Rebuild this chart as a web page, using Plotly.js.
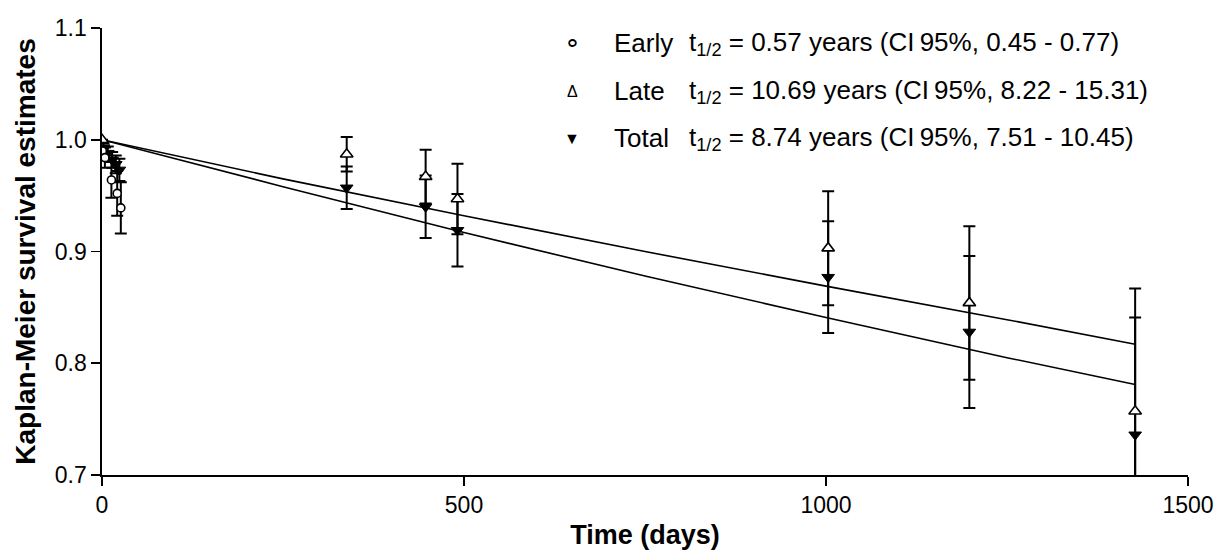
<!DOCTYPE html>
<html>
<head>
<meta charset="utf-8">
<script src="https://cdn.plot.ly/plotly-3.0.1.min.js"></script>
<style>html,body{margin:0;padding:0;background:#fff;}#chart{width:1216px;height:558px;}</style>
</head>
<body>
<div id="chart"></div>
<script>
// ---- Data ----
const earlyDays = [0.5, 4, 13, 21, 26];
const earlySurv = [0.990, 0.984, 0.964, 0.952, 0.939];
const earlyErr  = [0.004, 0.009, 0.016, 0.020, 0.023];

const lateDays = [0, 338, 447, 491, 1003, 1198, 1427];
const lateSurv = [1.000, 0.987, 0.967, 0.947, 0.903, 0.854, 0.757];
const lateErr  = [0, 0.0155, 0.024, 0.0315, 0.051, 0.0687, 0.110];

const totalDays = [2, 8, 14, 19, 24, 338, 447, 491, 1003, 1198, 1427];
const totalSurv = [0.993, 0.988, 0.982, 0.978, 0.973, 0.957, 0.940, 0.919, 0.877, 0.828, 0.736];
const totalErr  = [0.004, 0.006, 0.007, 0.008, 0.010, 0.019, 0.028, 0.0324, 0.050, 0.068, 0.105];

// fitted curves, read at several days
const fitDays      = [0, 250, 500, 750, 1000, 1250, 1427];
const lateFitSurv  = [1.000, 0.965, 0.932, 0.900, 0.869, 0.839, 0.817];
const totalFitSurv = [1.000, 0.958, 0.917, 0.878, 0.841, 0.805, 0.781];

const xTicks = [0, 500, 1000, 1500];
const yTicks = [0.7, 0.8, 0.9, 1.0, 1.1];

const legendNames = ["Early", "Late", "Total"];
const legendSymbols = ["\u2218", "\u0394", "\u25BC"];
const legendTexts = [
  "t<sub>1/2</sub> = 0.57 years (CI\u200995%, 0.45 - 0.77)",
  "t<sub>1/2</sub> = 10.69 years (CI\u200995%, 8.22 - 15.31)",
  "t<sub>1/2</sub> = 8.74 years (CI\u200995%, 7.51 - 10.45)"
];

const FONT = "Liberation Sans, Arial, sans-serif";
const errStyle = {type: 'data', visible: true, color: '#000', thickness: 2, width: 6};

const traces = [
  {x: fitDays, y: lateFitSurv, mode: 'lines', line: {color: '#000', width: 1.6}, showlegend: false, hoverinfo: 'skip'},
  {x: fitDays, y: totalFitSurv, mode: 'lines', line: {color: '#000', width: 1.6}, showlegend: false, hoverinfo: 'skip'},
  {x: totalDays, y: totalSurv, mode: 'markers', name: 'Total',
   error_y: Object.assign({array: totalErr}, errStyle),
   marker: {symbol: 'triangle-down', size: 11, color: '#000', line: {color: '#000', width: 1}}},
  {x: lateDays, y: lateSurv, mode: 'markers', name: 'Late',
   error_y: Object.assign({array: lateErr}, errStyle),
   marker: {symbol: 'triangle-up', size: 11, color: '#fff', line: {color: '#000', width: 1.6}}},
  {x: earlyDays, y: earlySurv, mode: 'markers', name: 'Early',
   error_y: Object.assign({array: earlyErr}, errStyle),
   marker: {symbol: 'circle', size: 8, color: '#fff', line: {color: '#000', width: 1.6}}}
];

const rowsY = [0.966, 0.858, 0.753];
const annotations = [];
for (let i = 0; i < 3; i++) {
  annotations.push({xref: 'paper', yref: 'paper', x: 0.4328, y: rowsY[i], text: legendSymbols[i],
    showarrow: false, xanchor: 'center', yanchor: 'middle', font: {family: FONT, size: i === 0 ? 27 : 16, color: '#000'}});
  annotations.push({xref: 'paper', yref: 'paper', x: 0.4696, y: rowsY[i], text: legendNames[i],
    showarrow: false, xanchor: 'left', yanchor: 'middle', font: {family: FONT, size: 26, color: '#000'}});
  annotations.push({xref: 'paper', yref: 'paper', x: 0.5387, y: rowsY[i], text: legendTexts[i],
    showarrow: false, xanchor: 'left', yanchor: 'middle', font: {family: FONT, size: 26, color: '#000'}});
}

const layout = {
  width: 1216, height: 558,
  margin: {l: 102, r: 28, t: 28, b: 83},
  paper_bgcolor: '#fff', plot_bgcolor: '#fff',
  showlegend: false,
  font: {family: FONT, color: '#000'},
  xaxis: {
    range: [0, 1500], tickvals: xTicks, ticktext: xTicks.map(String),
    showline: true, linecolor: '#000', linewidth: 1.6, showgrid: false, zeroline: false,
    ticks: 'outside', ticklen: 9, tickwidth: 1.6, tickcolor: '#000',
    tickfont: {family: FONT, size: 23, color: '#000'},
    title: {text: '<b>Time (days)</b>', font: {family: FONT, size: 27, color: '#000'}, standoff: 8}
  },
  yaxis: {
    range: [0.7, 1.1], tickvals: yTicks, ticktext: yTicks.map(v => v.toFixed(1)),
    showline: true, linecolor: '#000', linewidth: 1.6, showgrid: false, zeroline: false,
    ticks: 'outside', ticklen: 9, tickwidth: 1.6, tickcolor: '#000',
    tickfont: {family: FONT, size: 23, color: '#000'},
    title: {text: '<b>Kaplan-Meier survival estimates</b>', font: {family: FONT, size: 28, color: '#000'}, standoff: 11}
  },
  annotations: annotations
};

Plotly.newPlot('chart', traces, layout, {displayModeBar: false, staticPlot: true});
</script>
</body>
</html>
